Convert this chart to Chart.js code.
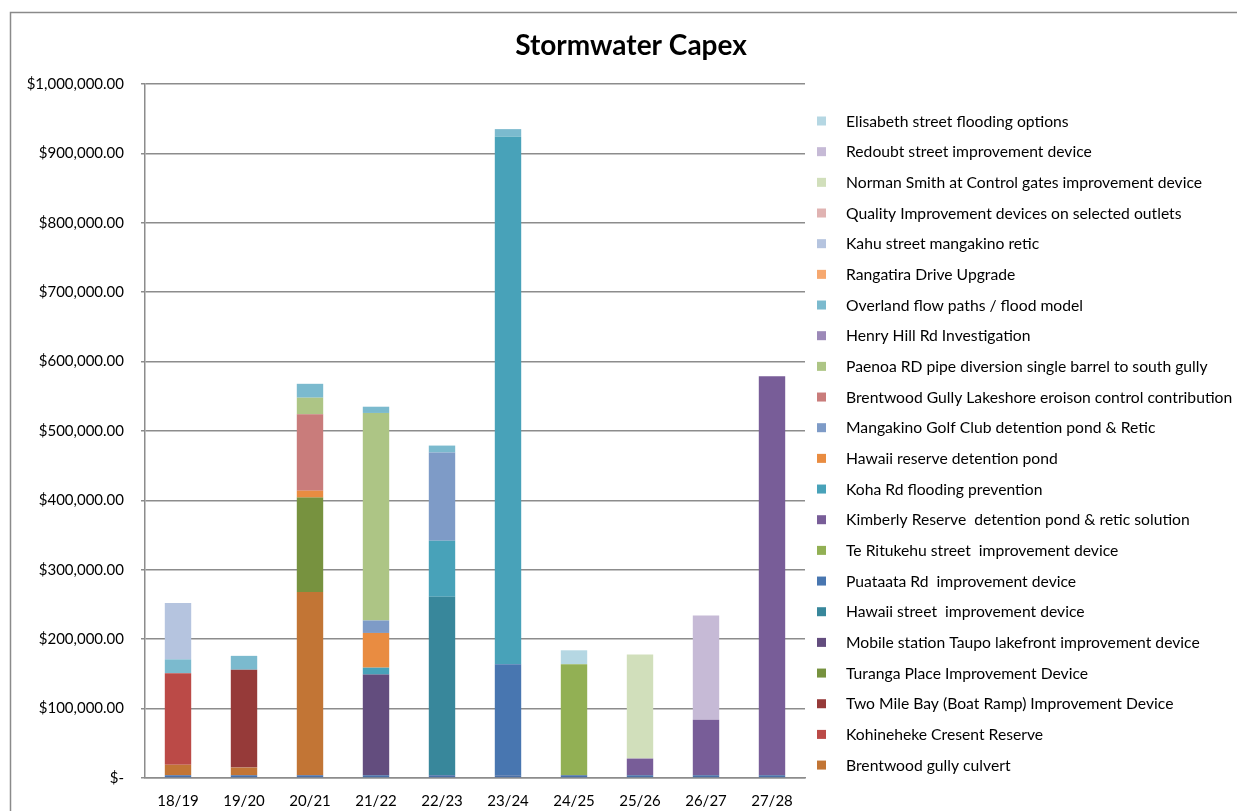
<!DOCTYPE html>
<html>
<head>
<meta charset="utf-8">
<title>Stormwater Capex</title>
<script src="https://cdn.jsdelivr.net/npm/chart.js@4.4.1/dist/chart.umd.min.js"></script>
<style>
  html, body { margin: 0; padding: 0; background: #ffffff; }
  #wrap { position: relative; width: 1237px; height: 811px; }
</style>
</head>
<body>
<div id="wrap"><canvas id="chart" width="1237" height="811"></canvas></div>
<script>
// Financial years
const categories = ['18/19', '19/20', '20/21', '21/22', '22/23', '23/24', '24/25', '25/26', '26/27', '27/28'];

// Capex per project and year (NZD), listed bottom of stack first
const baseAllowance        = [4000, 4000, 4000, 4000, 4000, 4000, 4000, 4000, 4000, 4000];
const brentwoodCulvert     = [15000, 11000, 264000, 0, 0, 0, 0, 0, 0, 0];
const kohinehekeReserve    = [132000, 0, 0, 0, 0, 0, 0, 0, 0, 0];
const twoMileBay           = [0, 141000, 0, 0, 0, 0, 0, 0, 0, 0];
const turangaPlace         = [0, 0, 136000, 0, 0, 0, 0, 0, 0, 0];
const mobileStation        = [0, 0, 0, 145000, 0, 0, 0, 0, 0, 0];
const hawaiiStreet         = [0, 0, 0, 0, 257000, 0, 0, 0, 0, 0];
const puataataRd           = [0, 0, 0, 0, 0, 160000, 0, 0, 0, 0];
const teRitukehu           = [0, 0, 0, 0, 0, 0, 160000, 0, 0, 0];
const kimberlyReserve      = [0, 0, 0, 0, 0, 0, 0, 24000, 80000, 575000];
const kohaRd               = [0, 0, 0, 10000, 81000, 760000, 0, 0, 0, 0];
const hawaiiReserve        = [0, 0, 10000, 50000, 0, 0, 0, 0, 0, 0];
const mangakinoGolf        = [0, 0, 0, 18000, 127000, 0, 0, 0, 0, 0];
const brentwoodLakeshore   = [0, 0, 110000, 0, 0, 0, 0, 0, 0, 0];
const paenoaRd             = [0, 0, 24000, 299000, 0, 0, 0, 0, 0, 0];
const henryHill            = [0, 0, 0, 0, 0, 0, 0, 0, 0, 0];
const overlandFlow         = [20000, 20000, 20000, 9000, 10000, 11000, 0, 0, 0, 0];
const rangatiraDrive       = [0, 0, 0, 0, 0, 0, 0, 0, 0, 0];
const kahuStreet           = [81000, 0, 0, 0, 0, 0, 0, 0, 0, 0];
const qualityDevices       = [0, 0, 0, 0, 0, 0, 0, 0, 0, 0];
const normanSmith          = [0, 0, 0, 0, 0, 0, 0, 150000, 0, 0];
const redoubtStreet        = [0, 0, 0, 0, 0, 0, 0, 0, 150000, 0];
const elisabethStreet      = [0, 0, 0, 0, 0, 0, 20000, 0, 0, 0];

// Value axis ticks
const yTicks = [0, 100000, 200000, 300000, 400000, 500000, 600000, 700000, 800000, 900000, 1000000];

const series = [
  { label: '', data: baseAllowance, color: '#4A70A8', inLegend: false },
  { label: 'Brentwood gully culvert', data: brentwoodCulvert, color: '#C27535' },
  { label: 'Kohineheke Cresent Reserve', data: kohinehekeReserve, color: '#BB4A47' },
  { label: 'Two Mile Bay (Boat Ramp) Improvement Device', data: twoMileBay, color: '#963A39' },
  { label: 'Turanga Place Improvement Device', data: turangaPlace, color: '#77923F' },
  { label: 'Mobile station Taupo lakefront improvement device', data: mobileStation, color: '#634D7E' },
  { label: 'Hawaii street  improvement device', data: hawaiiStreet, color: '#38879B' },
  { label: 'Puataata Rd  improvement device', data: puataataRd, color: '#4876B0' },
  { label: 'Te Ritukehu street  improvement device', data: teRitukehu, color: '#92B054' },
  { label: 'Kimberly Reserve  detention pond & retic solution', data: kimberlyReserve, color: '#785D98' },
  { label: 'Koha Rd flooding prevention', data: kohaRd, color: '#48A2B9' },
  { label: 'Hawaii reserve detention pond', data: hawaiiReserve, color: '#E98C41' },
  { label: 'Mangakino Golf Club detention pond & Retic', data: mangakinoGolf, color: '#7E9BC7' },
  { label: 'Brentwood Gully Lakeshore eroison control contribution', data: brentwoodLakeshore, color: '#C97C7B' },
  { label: 'Paenoa RD pipe diversion single barrel to south gully', data: paenoaRd, color: '#ADC585' },
  { label: 'Henry Hill Rd Investigation', data: henryHill, color: '#9C89B8' },
  { label: 'Overland flow paths / flood model', data: overlandFlow, color: '#7BBACE' },
  { label: 'Rangatira Drive Upgrade', data: rangatiraDrive, color: '#F6A86F' },
  { label: 'Kahu street mangakino retic', data: kahuStreet, color: '#B5C4DF' },
  { label: 'Quality Improvement devices on selected outlets', data: qualityDevices, color: '#E0B3B2' },
  { label: 'Norman Smith at Control gates improvement device', data: normanSmith, color: '#D1DFBB' },
  { label: 'Redoubt street improvement device', data: redoubtStreet, color: '#C6BAD6' },
  { label: 'Elisabeth street flooding options', data: elisabethStreet, color: '#B5D7E3' }
];

const FONT = 'Lato, "Open Sans", sans-serif';

function money(v) {
  if (v === 0) return '$-';
  return '$' + v.toLocaleString('en-US', { minimumFractionDigits: 2, maximumFractionDigits: 2 });
}

// Outer frame and heading
const framePlugin = {
  id: 'frame',
  beforeDraw(chart) {
    const ctx = chart.ctx;
    ctx.save();
    ctx.fillStyle = '#ffffff';
    ctx.fillRect(0, 0, chart.width, chart.height);
    ctx.strokeStyle = '#8a8a8a';
    ctx.lineWidth = 1.5;
    ctx.beginPath();
    ctx.moveTo(10.5, chart.height);
    ctx.lineTo(10.5, 12.5);
    ctx.lineTo(chart.width, 12.5);
    ctx.stroke();
    ctx.restore();
  },
  afterDraw(chart) {
    const ctx = chart.ctx;
    ctx.save();
    ctx.fillStyle = '#000000';
    ctx.font = 'bold 28px ' + FONT;
    ctx.textAlign = 'center';
    ctx.textBaseline = 'middle';
    ctx.fillText('Stormwater Capex', 631, 46);
    ctx.restore();
  }
};

// Legend column, top entry is the last series of the stack
const legendPlugin = {
  id: 'sideLegend',
  afterDraw(chart) {
    const ctx = chart.ctx;
    const items = chart.data.datasets.filter(d => d.inLegend !== false).slice().reverse();
    const x0 = 817, y0 = 121, step = 30.67, box = 9;
    ctx.save();
    ctx.font = '15.7px ' + FONT;
    ctx.textBaseline = 'middle';
    ctx.textAlign = 'left';
    items.forEach((d, i) => {
      const y = y0 + i * step;
      ctx.fillStyle = d.backgroundColor;
      ctx.fillRect(x0, y - box / 2, box, box);
      ctx.fillStyle = '#000000';
      ctx.fillText(d.label, x0 + 29, y + 0.5);
    });
    ctx.restore();
  }
};

new Chart(document.getElementById('chart'), {
  type: 'bar',
  data: {
    labels: categories,
    datasets: series.map(s => ({
      label: s.label,
      data: s.data,
      backgroundColor: s.color,
      borderWidth: 0,
      inLegend: s.inLegend,
      categoryPercentage: 1.0,
      barPercentage: 0.4
    }))
  },
  options: {
    responsive: false,
    animation: false,
    devicePixelRatio: 1,
    layout: { padding: { top: 84, right: 432, bottom: 0, left: 0 } },
    plugins: {
      legend: { display: false },
      title: { display: false },
      tooltip: { enabled: false }
    },
    scales: {
      x: {
        stacked: true,
        grid: { display: false, drawTicks: false },
        border: { display: true, color: '#8c8c8c', width: 1.5 },
        ticks: { color: '#000000', font: { family: FONT, size: 15 }, padding: 14 },
        afterFit(scale) { scale.height = 33; }
      },
      y: {
        stacked: true,
        min: 0,
        max: 1000000,
        afterBuildTicks(scale) { scale.ticks = yTicks.map(v => ({ value: v })); },
        grid: { color: '#8c8c8c', lineWidth: 1.5, tickLength: 4 },
        border: { display: true, color: '#8c8c8c', width: 1.5 },
        ticks: {
          color: '#000000',
          font: { family: FONT, size: 15 },
          padding: 17,
          callback: v => money(v)
        },
        afterFit(scale) { scale.width = 145; }
      }
    }
  },
  plugins: [framePlugin, legendPlugin]
});
</script>
</body>
</html>
